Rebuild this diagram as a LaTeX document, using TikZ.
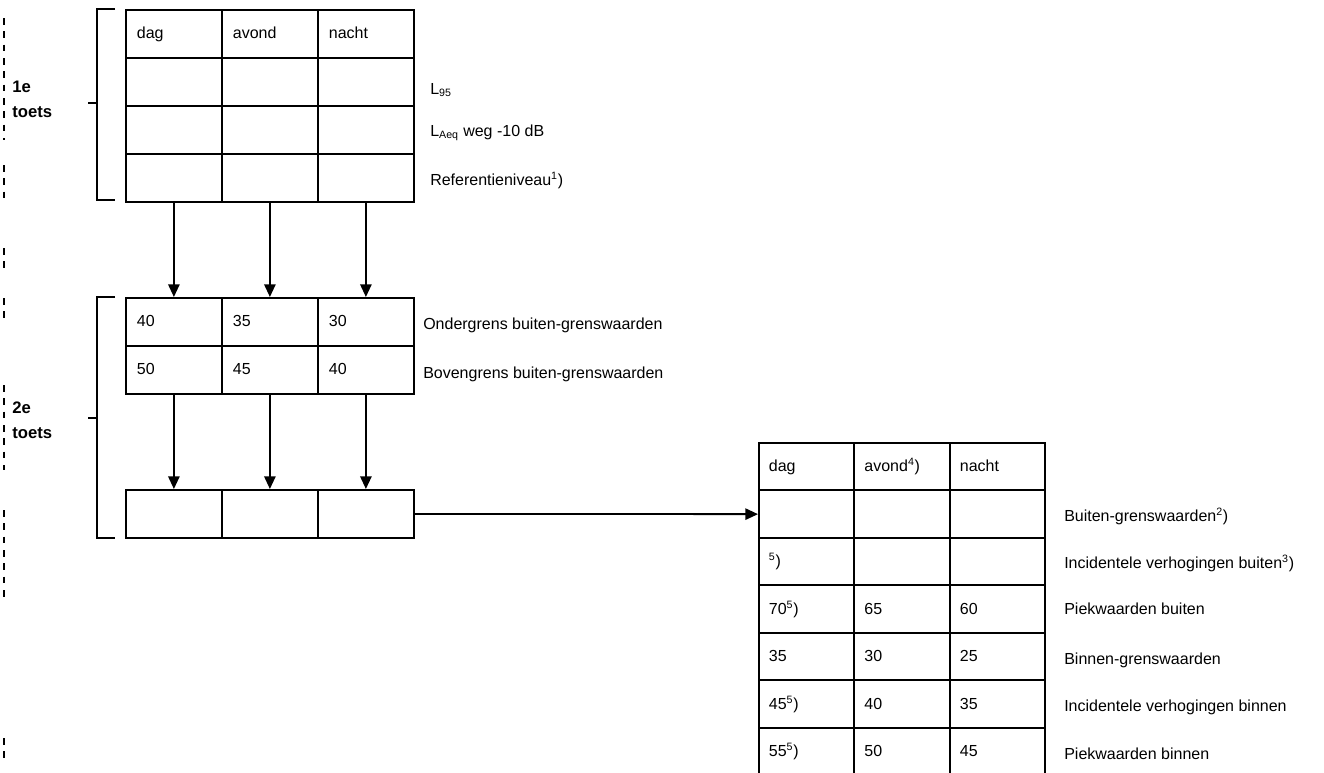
\documentclass[tikz,border=0pt]{standalone}
\usepackage{fontspec}
\setmainfont{Liberation Sans}
\usetikzlibrary{arrows.meta}
\begin{document}
\begin{tikzpicture}[x=0.75pt,y=-0.75pt,
  cell/.style={draw, line width=1.35pt, anchor=north west, minimum height=36pt, text width=55.5pt, text height=8.6pt, text depth=1pt, inner xsep=8.25pt, inner ysep=0pt, align=left, font=\fontsize{12}{14}\selectfont},
  rcell/.style={cell, minimum height=35.6pt, text width=56.6pt, inner xsep=7.5pt},
  lbl/.style={anchor=base west, inner sep=0pt, font=\fontsize{12}{14}\selectfont},
  toets/.style={anchor=base west, align=left, inner sep=0pt, font=\fontsize{12.5}{18.75}\bfseries\selectfont},
  arr/.style={line width=1.35pt, -{Triangle[length=9.5pt,width=8.5pt]}},
  brk/.style={line width=1.35pt},
  scan/.style={line width=1.3pt, dash pattern=on 5pt off 5pt}]
\useasboundingbox (0,0) rectangle (1324,772);

% scan-edge dashes
\foreach \a/\b in {18/140,165/200,248/272,298/322,385/470,510/600,738/762}
  \draw[scan] (4,\a) -- (4,\b);

% top table
\foreach \c/\x/\t in {1/125/dag,2/221/avond,3/317/nacht}
  \node[cell] (a1\c) at (\x,9) {\t};
\foreach \r/\y in {2/57,3/105,4/153}
  \foreach \c/\x in {1/125,2/221,3/317}
    \node[cell] (a\r\c) at (\x,\y) {};

% second table
\foreach \c/\x/\t in {1/125/40,2/221/35,3/317/30}
  \node[cell] (b1\c) at (\x,297) {\t};
\foreach \c/\x/\t in {1/125/50,2/221/45,3/317/40}
  \node[cell] (b2\c) at (\x,345) {\t};

% third table
\foreach \c/\x in {1/125,2/221,3/317}
  \node[cell] (c\c) at (\x,489) {};

% right table
\foreach \r/\p/\q/\s in {1/dag/{avond\textsuperscript{4})}/nacht, 2/{}/{}/{}, 3/{\textsuperscript{5})}/{}/{}, 4/{70\textsuperscript{5})}/65/60, 5/35/30/25, 6/{45\textsuperscript{5})}/40/35, 7/{55\textsuperscript{5})}/50/45}{
  \pgfmathsetmacro\yy{442+47.5*(\r-1)}
  \node[rcell] (r\r1) at (758,\yy) {\p};
  \node[rcell] (r\r2) at (853.5,\yy) {\q};
  \node[rcell] (r\r3) at (949,\yy) {\s};
}

% labels
\node[lbl] (l1) at (430,94) {L\textsubscript{95}};
\node[lbl] (l2) at (430,136.5) {L\textsubscript{Aeq} weg -10 dB};
\node[lbl] (l3) at (430,185.5) {Referentieniveau\textsuperscript{1})};
\node[lbl] (l4) at (423,329) {Ondergrens buiten-grenswaarden};
\node[lbl] (l5) at (423,378) {Bovengrens buiten-grenswaarden};
\node[lbl] (m1) at (1064,521) {Buiten-grenswaarden\textsuperscript{2})};
\node[lbl] (m2) at (1064,568) {Incidentele verhogingen buiten\textsuperscript{3})};
\node[lbl] (m3) at (1064,614) {Piekwaarden buiten};
\node[lbl] (m4) at (1064,664) {Binnen-grenswaarden};
\node[lbl] (m5) at (1064,711) {Incidentele verhogingen binnen};
\node[lbl] (m6) at (1064,759) {Piekwaarden binnen};

% toets labels
\node[toets] (t1) at (12,117) {1e\\toets};
\node[toets] (t2) at (12,438) {2e\\toets};

% brackets
\draw[brk] (115,9) -- (97,9) -- (97,200) -- (115,200);
\draw[brk] (88,103) -- (97,103);
\draw[brk] (115,297) -- (97,297) -- (97,538) -- (115,538);
\draw[brk] (88,418) -- (97,418);

% arrows
\foreach \c in {1,2,3}{
  \draw[arr] (a4\c.south) -- (b1\c.north);
  \draw[arr] (b2\c.south) -- (c\c.north);
}
\draw[arr] (c3.east) -- (r21.west);
\end{tikzpicture}
\end{document}
